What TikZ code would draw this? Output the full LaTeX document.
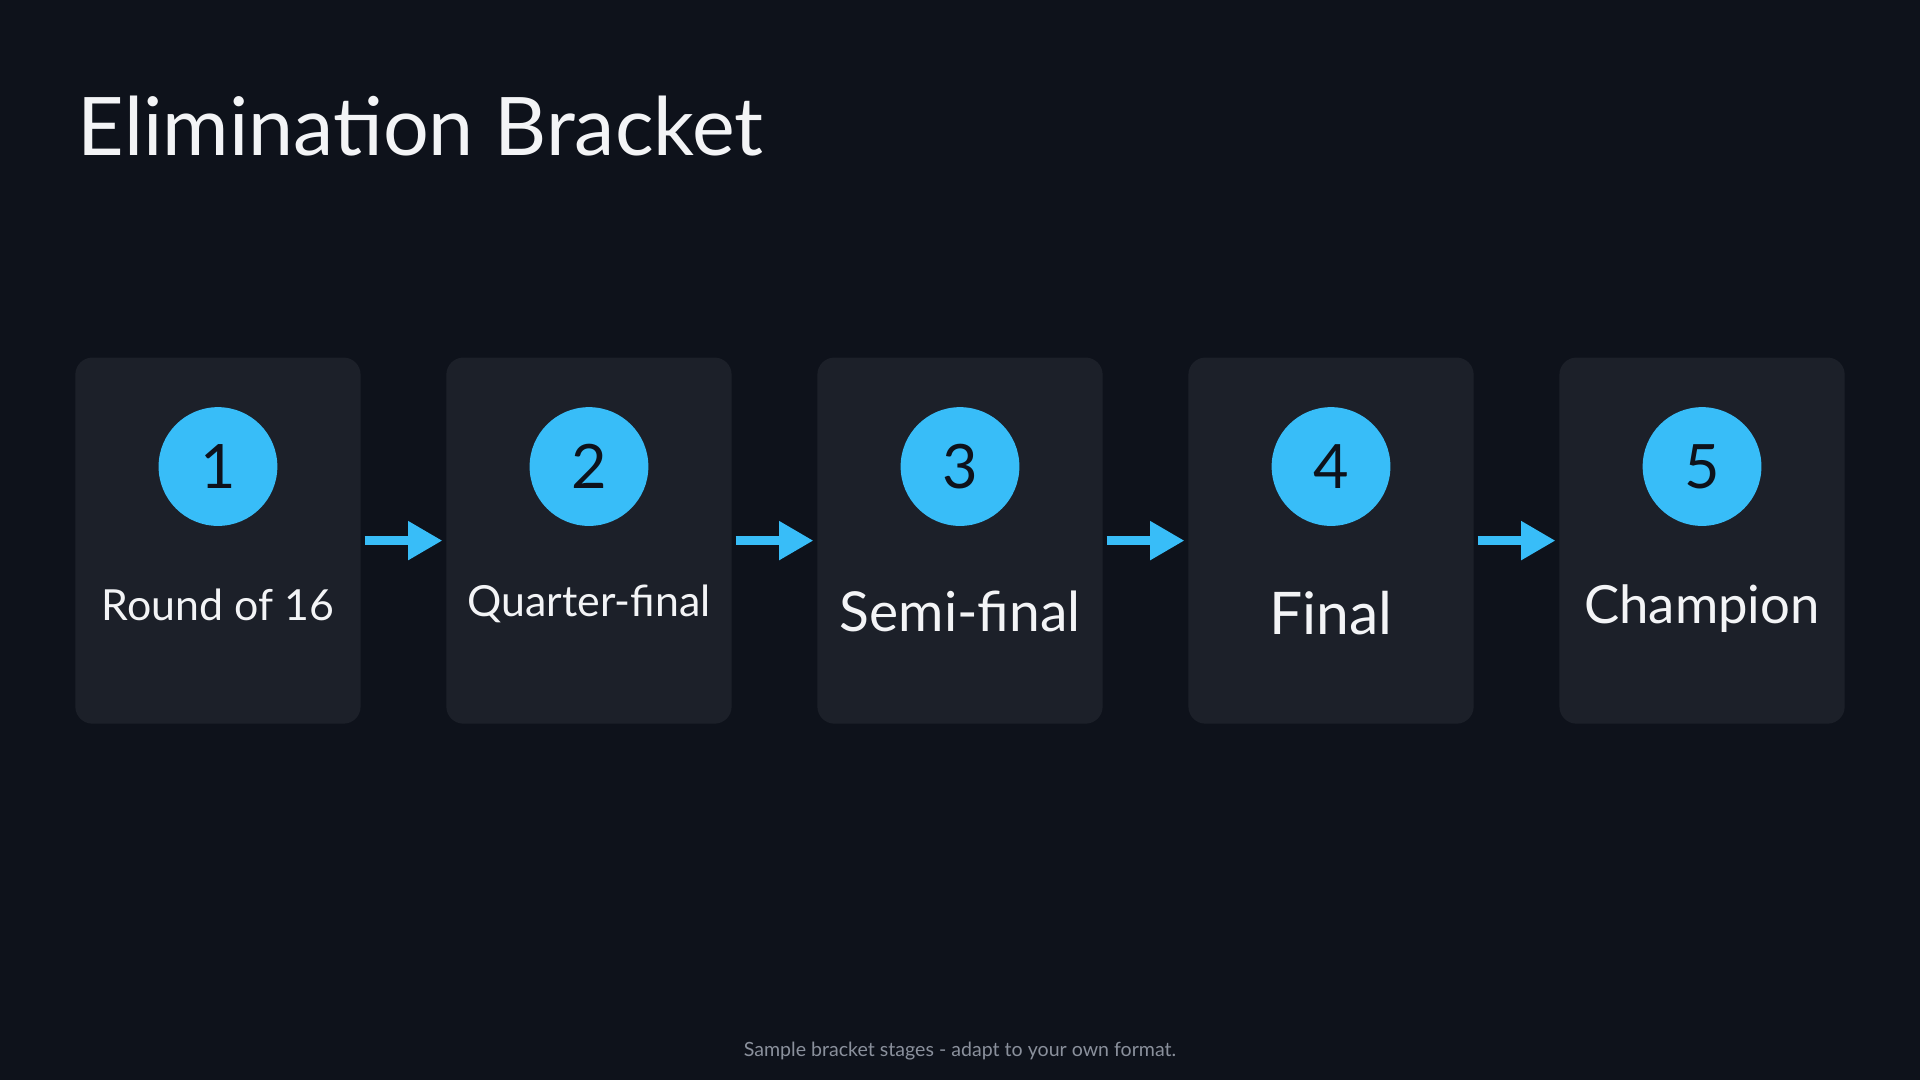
\documentclass[tikz,border=0pt]{standalone}
\usepackage{fontspec}
\setmainfont{Lato}
\usetikzlibrary{arrows.meta}
\definecolor{bg}{HTML}{0E121B}
\definecolor{card}{HTML}{1C2029}
\definecolor{acc}{HTML}{38BDF8}
\definecolor{txt}{HTML}{F3F4F6}
\definecolor{muted}{HTML}{8A909C}
\begin{document}
\begin{tikzpicture}[x=1pt,y=-1pt,
  card/.style={fill=card,rounded corners=14pt,minimum width=233pt,minimum height=299pt,inner sep=0},
  num/.style={circle,fill=acc,minimum size=97pt,inner sep=0,text=bg,font=\fontsize{50}{50}\selectfont},
  lab/.style={text=txt},
  conn/.style={draw=acc,line width=7pt,-{Triangle[length=28pt,width=30pt]}}]
\fill[bg] (0,0) rectangle (1568,882);
\useasboundingbox (0,0) rectangle (1568,882);
\node[anchor=west,text=txt,font=\fontsize{66}{66}\selectfont] (title) at (60,103) {Elimination Bracket};
\foreach \i/\x in {1/178,2/481,3/784,4/1087,5/1390}{
  \node[card] (c\i) at (\x,441.5) {};
  \node[num] (n\i) at (\x,381) {\i};
}
\node[lab,font=\fontsize{35}{35}\selectfont] (l1) at (178,494) {Round of 16};
\node[lab,font=\fontsize{35}{35}\selectfont] (l2) at (481,493) {Quarter-final};
\node[lab,font=\fontsize{45}{45}\selectfont] (l3) at (784,499) {Semi-final};
\node[lab,font=\fontsize{48}{48}\selectfont] (l4) at (1087,501) {Final};
\node[lab,font=\fontsize{43}{43}\selectfont] (l5) at (1390,497) {Champion};
\foreach \a/\b in {1/2,2/3,3/4,4/5}{
  \draw[conn] ([xshift=3pt]c\a.east) -- ([xshift=-3pt]c\b.west);
}
\node[text=muted,font=\fontsize{16}{16}\selectfont] (foot) at (784,858) {Sample bracket stages - adapt to your own format.};
\end{tikzpicture}
\end{document}
